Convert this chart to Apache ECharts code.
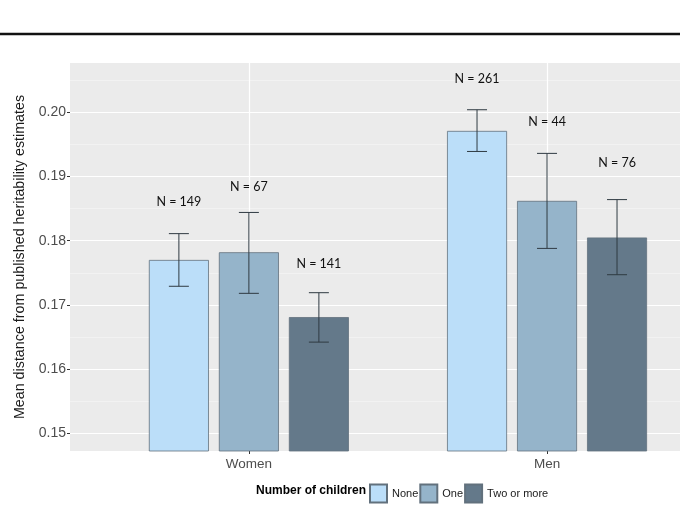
<!DOCTYPE html>
<html>
<head>
<meta charset="utf-8">
<script src="https://cdn.jsdelivr.net/npm/echarts@6/dist/echarts.min.js"></script>
<style>
html,body{margin:0;padding:0;background:#fff;}
#chart{width:680px;height:513px;}
</style>
</head>
<body>
<div id="chart"></div>
<script>
// ---- data ----
const categories = ['Women', 'Men'];
const groups = ['None', 'One', 'Two or more'];
const meanNone = [0.1770, 0.1971];
const meanOne  = [0.1782, 0.1862];
const meanTwo  = [0.1681, 0.1805];
const lowNone  = [0.1729, 0.1939];
const highNone = [0.1811, 0.2004];
const lowOne   = [0.1718, 0.1788];
const highOne  = [0.1844, 0.1936];
const lowTwo   = [0.1642, 0.1747];
const highTwo  = [0.1719, 0.1864];
const nNone = [149, 261];
const nOne  = [67, 44];
const nTwo  = [141, 76];
const nLabelYNone = [0.1861, 0.2052];
const nLabelYOne  = [0.1884, 0.1985];
const nLabelYTwo  = [0.1764, 0.1921];
const yTicks = [0.15, 0.16, 0.17, 0.18, 0.19, 0.20];
const yMinorTicks = [0.155, 0.165, 0.175, 0.185, 0.195, 0.205];
const yMin = 0.14724, yMax = 0.20768;
const xMin = 0.4, xMax = 2.446;

// ---- styles ----
const colors = ['#bbdef9', '#95b4ca', '#64798a'];
const BAR_W = 60, BAR_GAP = 10;
const axisFont = 'Liberation Sans';

const means = [meanNone, meanOne, meanTwo];
const lows = [lowNone, lowOne, lowTwo];
const highs = [highNone, highOne, highTwo];
const ns = [nNone, nOne, nTwo];
const labelYs = [nLabelYNone, nLabelYOne, nLabelYTwo];

const barSeries = groups.map((g, i) => ({
  name: g,
  type: 'bar',
  data: categories.map((c, j) => [j + 1, means[i][j]]),
  barWidth: BAR_W,
  barGap: (BAR_GAP / BAR_W * 100) + '%',
  clip: true,
  itemStyle: { color: colors[i], borderColor: '#62717d', borderWidth: 0.8 },
  emphasis: { disabled: true },
  z: 2
}));

const errData = [];
const labelData = [];
groups.forEach((g, i) => {
  categories.forEach((c, j) => {
    errData.push([j + 1, lows[i][j], highs[i][j], i]);
    labelData.push([j + 1, labelYs[i][j], i, ns[i][j]]);
  });
});

const errSeries = {
  type: 'custom',
  data: errData,
  clip: true,
  z: 5,
  renderItem: function (params, api) {
    const x = api.value(0), lo = api.value(1), hi = api.value(2), i = api.value(3);
    const pHi = api.coord([x, hi]);
    const pLo = api.coord([x, lo]);
    const cx = pHi[0] + (i - 1) * (BAR_W + BAR_GAP);
    const st = { stroke: '#2f3a42', lineWidth: 1 };
    return {
      type: 'group',
      children: [
        { type: 'line', shape: { x1: cx, y1: pHi[1], x2: cx, y2: pLo[1] }, style: st },
        { type: 'line', shape: { x1: cx - 10, y1: pHi[1], x2: cx + 10, y2: pHi[1] }, style: st },
        { type: 'line', shape: { x1: cx - 10, y1: pLo[1], x2: cx + 10, y2: pLo[1] }, style: st }
      ]
    };
  }
};

const labelSeries = {
  type: 'custom',
  data: labelData,
  z: 6,
  renderItem: function (params, api) {
    const x = api.value(0), y = api.value(1), i = api.value(2), n = api.value(3);
    const p = api.coord([x, y]);
    const cx = p[0] + (i - 1) * (BAR_W + BAR_GAP);
    return {
      type: 'text',
      style: {
        x: cx, y: p[1], text: 'N = ' + n,
        align: 'center', verticalAlign: 'middle',
        fill: '#111', font: '12.5px Lato'
      }
    };
  }
};

const chart = echarts.init(document.getElementById('chart'), null, { renderer: 'canvas' });
chart.setOption({
  animation: false,
  backgroundColor: '#ffffff',
  title: {
    text: 'Number of children',
    left: 256, top: 485, padding: 0,
    textStyle: { fontFamily: axisFont, fontWeight: 'bold', fontSize: 12, color: '#000' }
  },
  legend: {
    data: groups,
    left: 369, top: 483.5, padding: 0,
    itemWidth: 17, itemHeight: 18, itemGap: 1,
    icon: 'rect',
    selectedMode: false,
    textStyle: { fontFamily: axisFont, fontSize: 11, color: '#1a1a1a' }
  },
  graphic: [
    { type: 'line', shape: { x1: 0, y1: 34, x2: 680, y2: 34 }, style: { stroke: '#111', lineWidth: 2.5 } }
  ],
  grid: {
    left: 70, top: 63, right: 0, height: 388,
    show: true, backgroundColor: '#ebebeb', borderWidth: 0
  },
  xAxis: {
    type: 'value', min: xMin, max: xMax,
    axisLine: { show: false },
    axisTick: { show: true, length: 3, lineStyle: { color: '#333' }, customValues: [1, 2] },
    axisLabel: {
      customValues: [1, 2], margin: 6,
      formatter: v => categories[Math.round(v) - 1] || '',
      fontFamily: axisFont, fontSize: 13.5, color: '#4d4d4d'
    },
    splitLine: { show: true, lineStyle: { color: '#ffffff', width: 1.2 } }
  },
  yAxis: [{
    type: 'value', min: yMin, max: yMax,
    name: 'Mean distance from published heritability estimates',
    nameLocation: 'middle', nameGap: 43,
    nameTextStyle: { fontFamily: axisFont, fontSize: 14.3, color: '#1a1a1a' },
    axisLine: { show: false },
    axisTick: { show: true, length: 3, lineStyle: { color: '#333' }, customValues: yTicks },
    axisLabel: {
      customValues: yTicks, margin: 4,
      formatter: v => v.toFixed(2),
      fontFamily: axisFont, fontSize: 14, color: '#4d4d4d'
    },
    splitLine: { show: true, lineStyle: { color: '#ffffff', width: 1.2 } }
  }, {
    type: 'value', min: yMin, max: yMax,
    position: 'left',
    axisLine: { show: false },
    axisTick: { show: false, customValues: yMinorTicks },
    axisLabel: { show: false, customValues: yMinorTicks },
    splitLine: { show: true, lineStyle: { color: '#f7f7f7', width: 0.6 } }
  }],
  series: barSeries.concat([errSeries, labelSeries])
});
</script>
</body>
</html>
